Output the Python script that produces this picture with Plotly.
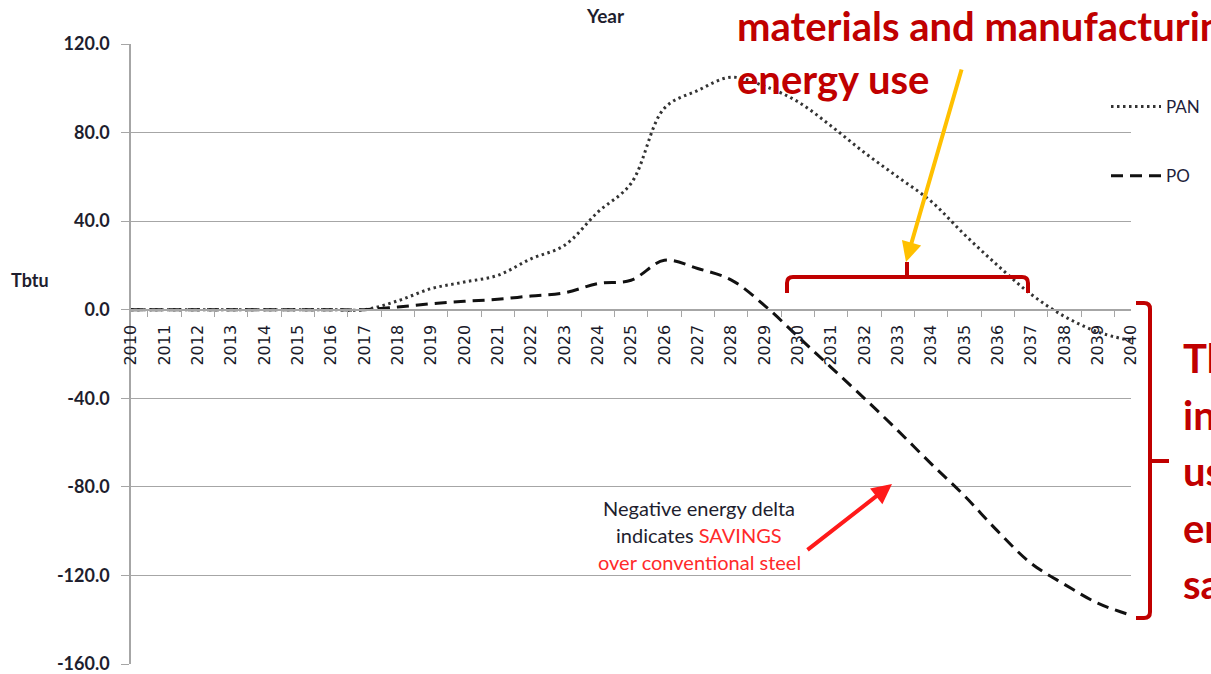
import plotly.graph_objects as go

# ---- data -------------------------------------------------------------
years = [str(y) for y in range(2010, 2041)]
pan = [0, 0, 0, 0, 0, 0, 0, 0, 4, 9.5, 12.5, 15.5, 23, 29, 44, 57,
       91, 99, 105, 101, 94, 83, 71, 60, 49, 34, 20, 7, -3, -10, -14]
po = [0, 0, 0, 0, 0, 0, 0, 0, 1.2, 2.7, 3.8, 4.7, 6.2, 7.6, 11.8, 13.3,
      22.3, 18.6, 13.5, 2, -12, -26, -40, -54.5, -69.5, -84, -100, -114.5,
      -124, -132.5, -138]
y_ticks = [120, 80, 40, 0, -40, -80, -120, -160]
y_tick_text = [f"{v:.1f}" for v in y_ticks]

# ---- page geometry (pixels) ------------------------------------------
W, H = 1211, 674
L, R, T, B = 131, 80, 44, 10
PW, PH = W - L - R, H - T - B


def fx(px):
    return (px - L) / PW


def fy(py):
    return (H - B - py) / PH


DARK_RED = "#c00000"
GRID = "#a6a6a6"

fig = go.Figure()
fig.add_trace(go.Scatter(
    x=years, y=pan, name="PAN", mode="lines", legendgroup="pan",
    line=dict(color="#333333", width=3, dash="2.5px,3.5px", shape="spline"),
))
fig.add_trace(go.Scatter(
    x=years, y=po, name="PO", mode="lines", legendgroup="po",
    line=dict(color="#111111", width=3, dash="12px,7px", shape="spline"),
))

fig.update_layout(
    width=W, height=H,
    margin=dict(l=L, r=R, t=T, b=B, autoexpand=False),
    paper_bgcolor="white", plot_bgcolor="white",
    showlegend=True,
    legend=dict(x=fx(1106), y=fy(89), xanchor="left", yanchor="top",
                tracegroupgap=44, itemwidth=50, bgcolor="rgba(0,0,0,0)",
                font=dict(family="Lato", size=17, color="#1e1e3a")),
    xaxis=dict(
        type="category", anchor="free", position=160 / 280,
        showline=True, linecolor=GRID, linewidth=1.5,
        ticks="outside", tickson="boundaries", ticklen=7, tickcolor=GRID,
        tickangle=-90, showgrid=False, zeroline=False,
        ticklabelstandoff=8,
        tickfont=dict(family="DejaVu Sans", size=16, color="#1a1a2a"),
    ),
    yaxis=dict(
        range=[-160, 120], tickvals=y_ticks, ticktext=y_tick_text,
        showline=True, linecolor=GRID, linewidth=1.5,
        ticks="outside", ticklen=8, tickcolor=GRID,
        showgrid=True, gridcolor=GRID, gridwidth=1.2, zeroline=False,
        ticklabelstandoff=8, ticklabeloverflow="allow",
        tickfont=dict(family="Lato", size=18, color="#1e1e2e", weight="bold"),
    ),
)

ann = []
# axis titles
ann.append(dict(x=fx(605), y=fy(16), text="Year", showarrow=False,
                font=dict(family="Lato", size=19, color="#1e1e2e", weight="bold")))
ann.append(dict(x=fx(30), y=fy(280), text="Tbtu", showarrow=False,
                font=dict(family="Lato", size=18, color="#1e1e2e", weight="bold")))

# headline text in dark red
head_font = dict(family="Lato", size=40, color=DARK_RED, weight="bold")
ann.append(dict(x=fx(735), y=fy(26), text="materials and manufacturing",
                showarrow=False, xanchor="left", font=head_font))
ann.append(dict(x=fx(735), y=fy(79), text="energy use",
                showarrow=False, xanchor="left", font=head_font))
side_lines = ["The", "initial", "usage", "energy", "savings"]
for i, s in enumerate(side_lines):
    ann.append(dict(x=fx(1181), y=fy(358 + i * 56.5), text=s, showarrow=False,
                    xanchor="left", font=head_font))

# savings note
note_font = dict(family="Lato", size=20, color="#1e1e2e")
ann.append(dict(x=fx(699), y=fy(508), text="Negative energy delta",
                showarrow=False, font=note_font))
ann.append(dict(x=fx(699), y=fy(535),
                text="indicates <span style='color:#ff2a2a'>SAVINGS</span>",
                showarrow=False, font=note_font))
ann.append(dict(x=fx(699), y=fy(562), text="over conventional steel",
                showarrow=False, font=dict(family="Lato", size=20, color="#ff2a2a")))

# arrows
ann.append(dict(x=fx(892), y=fy(484), ax=806 - 892, ay=551 - 484, text="",
                showarrow=True, arrowhead=2, arrowsize=1, arrowwidth=4,
                arrowcolor="#ff1a1a"))
ann.append(dict(x=fx(906), y=fy(262), ax=962 - 906, ay=68 - 262, text="",
                showarrow=True, arrowhead=2, arrowsize=1, arrowwidth=4,
                arrowcolor="#ffc000"))

for a in ann:
    a.setdefault("xref", "paper")
    a.setdefault("yref", "paper")
    a.setdefault("xanchor", "center")
    a.setdefault("yanchor", "middle")
fig.update_layout(annotations=ann)


def path(points):
    """Build an SVG path in paper coordinates from pixel commands."""
    out = []
    for cmd, *xy in points:
        coords = []
        for i in range(0, len(xy), 2):
            coords.append(f"{fx(xy[i]):.5f},{fy(xy[i + 1]):.5f}")
        out.append(cmd + " " + " ".join(coords))
    return " ".join(out)


bracket = dict(color=DARK_RED, width=4)
shapes = [
    # horizontal bracket over 2030-2037
    dict(type="path", xref="paper", yref="paper", line=bracket,
         path=path([("M", 787, 293), ("L", 787, 283), ("Q", 787, 277, 793, 277),
                    ("L", 1022, 277), ("Q", 1028, 277, 1028, 283),
                    ("L", 1028, 293)])),
    dict(type="path", xref="paper", yref="paper", line=bracket,
         path=path([("M", 907, 277), ("L", 907, 262)])),
    # vertical bracket on the right
    dict(type="path", xref="paper", yref="paper", line=bracket,
         path=path([("M", 1136, 303), ("L", 1144, 303), ("Q", 1150, 303, 1150, 309),
                    ("L", 1150, 612), ("Q", 1150, 618, 1144, 618),
                    ("L", 1136, 618)])),
    dict(type="path", xref="paper", yref="paper", line=bracket,
         path=path([("M", 1150, 461), ("L", 1169, 461)])),
]
fig.update_layout(shapes=shapes)

fig.write_html("out.html")
